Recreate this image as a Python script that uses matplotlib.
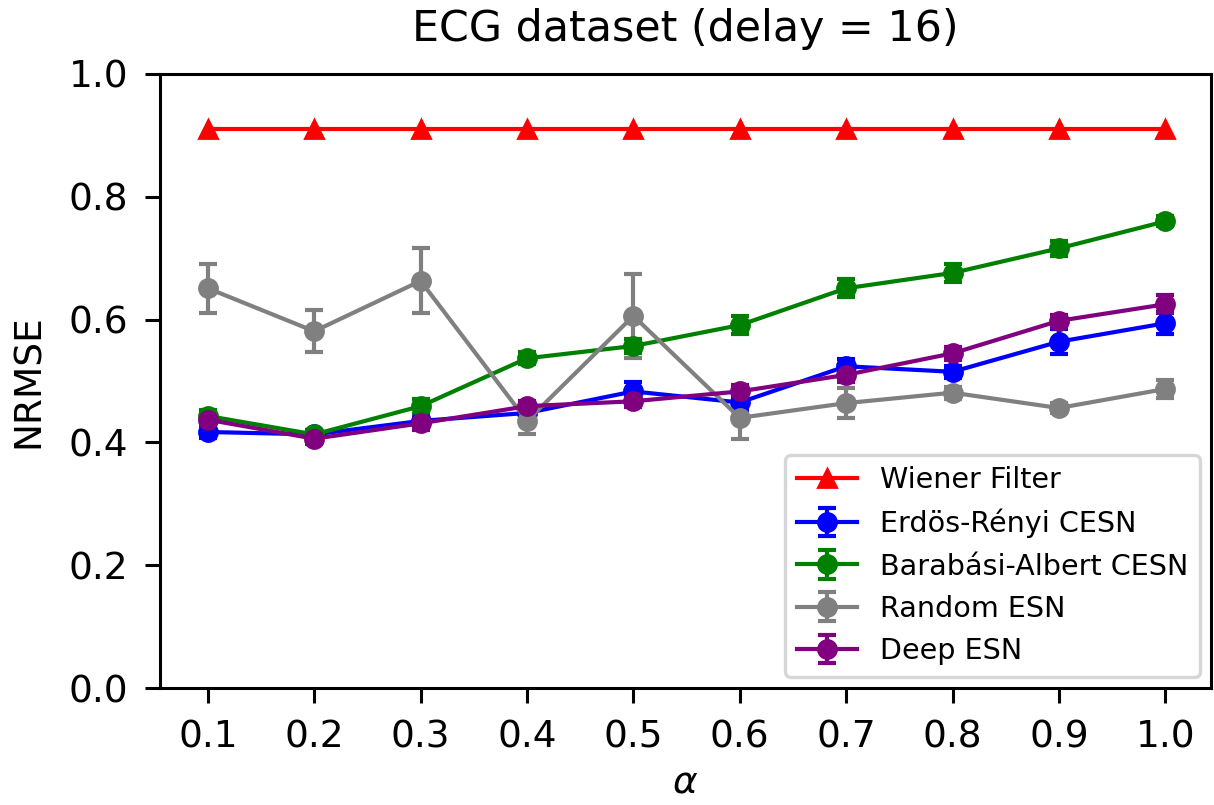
import numpy as np
import matplotlib
matplotlib.use("Agg")
import matplotlib.pyplot as plt

# leak rate alpha
alpha = [0.1, 0.2, 0.3, 0.4, 0.5, 0.6, 0.7, 0.8, 0.9, 1.0]

wiener = [0.910] * 10

er_mean = [0.417, 0.413, 0.435, 0.448, 0.483, 0.465, 0.524, 0.515, 0.564, 0.594]
er_err = [0.010, 0.008, 0.010, 0.010, 0.015, 0.012, 0.012, 0.010, 0.020, 0.018]

ba_mean = [0.443, 0.413, 0.459, 0.537, 0.557, 0.591, 0.651, 0.676, 0.716, 0.760]
ba_err = [0.010, 0.008, 0.012, 0.010, 0.012, 0.015, 0.015, 0.015, 0.012, 0.008]

rnd_mean = [0.651, 0.581, 0.663, 0.435, 0.606, 0.440, 0.464, 0.481, 0.456, 0.487]
rnd_err = [0.040, 0.034, 0.053, 0.022, 0.068, 0.034, 0.025, 0.010, 0.008, 0.015]

deep_mean = [0.437, 0.406, 0.431, 0.459, 0.467, 0.483, 0.510, 0.545, 0.598, 0.625]
deep_err = [0.010, 0.008, 0.010, 0.008, 0.010, 0.010, 0.012, 0.010, 0.010, 0.015]

plt.rcParams['font.family'] = 'DejaVu Sans'

fig = plt.figure(figsize=(6.07, 4.025), dpi=200)
ax = fig.add_axes([160 / 1214, 1 - 688 / 805, 1051 / 1214, 614 / 805])

lw = 1.5
ax.plot(alpha, wiener, color='red', marker='^', lw=lw, markersize=6.5,
        label='Wiener Filter')
series = [
    (er_mean, er_err, 'blue', 'Erdös-Rényi CESN'),
    (ba_mean, ba_err, 'green', 'Barabási-Albert CESN'),
    (rnd_mean, rnd_err, 'gray', 'Random ESN'),
    (deep_mean, deep_err, 'purple', 'Deep ESN'),
]
for mean, err, col, name in series:
    ax.errorbar(alpha, mean, yerr=err, color=col, marker='o', lw=lw,
                markersize=6.5, capsize=3.2, capthick=lw, label=name)

ax.set_ylim(0, 1.0)
ax.set_xlim(0.055, 1.043)
ax.set_xticks(alpha)
ax.set_xticklabels(['0.1', '0.2', '0.3', '0.4', '0.5', '0.6', '0.7', '0.8', '0.9', '1.0'])
ax.set_yticks([0.0, 0.2, 0.4, 0.6, 0.8, 1.0])
ax.tick_params(labelsize=13.5, length=5.4, width=1.1, pad=6)
for sp in ax.spines.values():
    sp.set_linewidth(1.1)

ax.set_title('ECG dataset (delay = 16)', fontsize=15.4, pad=12)
ax.set_xlabel(r'$\alpha$', fontsize=13.5, labelpad=3)
ax.set_ylabel('NRMSE', fontsize=13.5, labelpad=8)

leg = ax.legend(loc='lower right', fontsize=10.3, borderaxespad=0.4,
                handlelength=2.1)
leg.get_frame().set_linewidth(1.2)

fig.savefig('out.png', dpi=200)
